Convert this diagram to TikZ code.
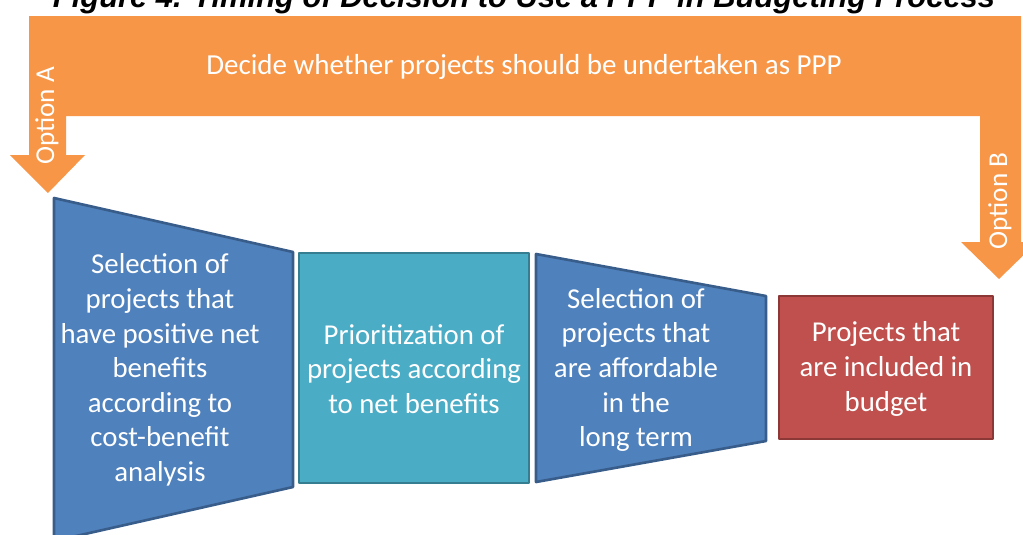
\documentclass[tikz,border=0pt]{standalone}
\usepackage{fontspec}
\setmainfont{Carlito}
\newfontfamily\titlefont{Liberation Sans}
\usetikzlibrary{positioning}
\definecolor{bannerColor}{RGB}{247, 150, 70}
\definecolor{selectColor}{RGB}{79, 129, 189}
\definecolor{selectBorder}{RGB}{56, 93, 138}
\definecolor{priorColor}{RGB}{75, 172, 198}
\definecolor{priorBorder}{RGB}{53, 125, 145}
\definecolor{budgetColor}{RGB}{192, 80, 77}
\definecolor{budgetBorder}{RGB}{140, 56, 54}
\tikzset{
    boxtext/.style={text=white, align=center, font=\fontsize{16.4}{19.7}\selectfont},
    optiontext/.style={text=white, rotate=90, font=\fontsize{15.5}{18}\selectfont},
    stagebox/.style={line width=1.5pt, line join=round}
}

\begin{document}
\begin{tikzpicture}[x=0.02cm, y=-0.02cm]
            \useasboundingbox (0,0) rectangle (1023,534);
            \clip (0,0) rectangle (1023,534);

            % Title text (cut off at the top)
            \node[anchor=base, font=\titlefont\bfseries\itshape\fontsize{17.6}{22}\selectfont] (title) at (524,8) {Figure 4. Timing of Decision to Use a PPP in Budgeting Process};

            % Orange banner with both option arrows
            \fill[bannerColor] (29,16) -- (1021,16) -- (1021,242) -- (1037,242) -- (999,279)
                -- (961,242) -- (980,242) -- (980,116) -- (66,116) -- (66,155) -- (85,155)
                -- (48,193) -- (10,155) -- (29,155) -- cycle;
            \node[text=white, font=\fontsize{16.5}{19}\selectfont] (decide) at (524,67) {Decide whether projects should be undertaken as PPP};
            \node[optiontext] (optA) at (47,116) {Option A};
            \node[optiontext] (optB) at (1000,201) {Option B};

            % Funnel of stages
            \filldraw[stagebox, fill=selectColor, draw=selectBorder] (54,198) -- (293,252) -- (293,487) -- (54,541) -- cycle;
            \node[boxtext] (select) at (160,370) {Selection of\\projects that\\have positive net\\benefits\\according to\\cost-benefit\\analysis};

            \filldraw[stagebox, fill=priorColor, draw=priorBorder] (299,253) rectangle (529,483);
            \node[boxtext] (prior) at (414,369) {Prioritization of\\projects according\\to net benefits};

            \filldraw[stagebox, fill=selectColor, draw=selectBorder] (536,254) -- (766,296) -- (766,441) -- (536,482) -- cycle;
            \node[boxtext] (afford) at (636,370) {Selection of\\projects that\\are affordable\\in the\\long term};

            \filldraw[stagebox, fill=budgetColor, draw=budgetBorder] (779,296) rectangle (993,439);
            \node[boxtext] (budget) at (886,369) {Projects that\\are included in\\budget};
        \end{tikzpicture}
\end{document}
